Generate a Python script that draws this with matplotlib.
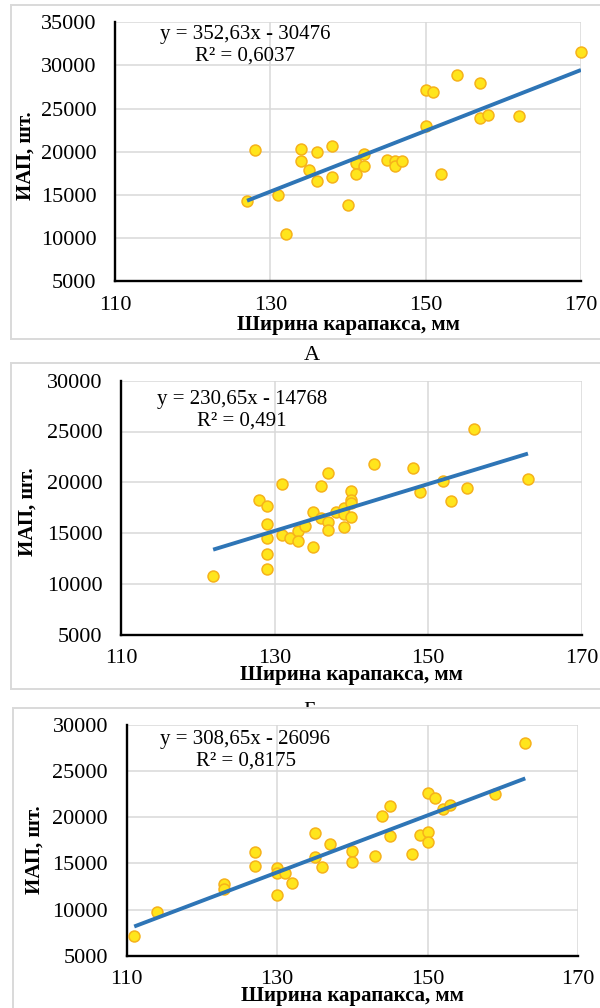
import matplotlib.pyplot as plt
from matplotlib.patches import Rectangle

plt.rcParams['font.family'] = ['Liberation Serif', 'DejaVu Serif']

W, H = 600, 1008

# panel 1 (caption А)
width1 = [127, 128, 131, 132, 134, 134, 135, 136, 136, 138, 138, 140, 141, 141, 142,
          142, 145, 146, 146, 147, 150, 151, 150, 152, 154, 157, 157, 158, 162, 170]
iap1 = [14300, 20200, 14950, 10500, 20250, 18930, 17850, 19940, 16610, 20640, 17075,
        13785, 18700, 17460, 19785, 18310, 19010, 18930, 18350, 18930, 27140, 26950,
        23000, 17385, 28840, 27990, 23890, 24240, 24160, 31590]

# panel 2 (caption Б)
width2 = [122, 128, 129, 129, 129, 129, 129, 131, 131, 132, 133, 133, 134, 135, 135,
          136, 136, 137, 137, 137, 138, 139, 139, 139, 140, 140, 140, 140, 143, 148,
          149, 152, 153, 155, 156, 163]
iap2 = [10770, 18255, 17700, 15860, 14480, 12900, 11430, 19830, 14810, 14480, 15200,
        14220, 15730, 17040, 13660, 19670, 16450, 20945, 16120, 15270, 17100, 17500,
        16880, 15560, 19170, 18255, 17930, 16610, 21765, 21370, 19010, 20125, 18120,
        19400, 25210, 20320]

# panel 3
width3 = [111, 114, 123, 123, 127, 127, 130, 130, 130, 131, 132, 135, 135, 136, 137,
          140, 140, 143, 144, 145, 145, 148, 149, 150, 150, 150, 151, 152, 153, 159, 163]
iap3 = [7130, 9700, 12770, 12190, 16240, 14750, 14470, 13920, 11575, 13920, 12880,
        18330, 15730, 14650, 17100, 16340, 15150, 15770, 20170, 21260, 17930, 16055,
        18040, 22670, 18440, 17355, 22090, 20930, 21290, 22490, 28050]

# linear trend (Excel)
slopes = [352.63, 230.65, 308.65]
intercepts = [-30476, -14768, -26096]
r2_labels = ['0,6037', '0,491', '0,8175']

y_tops = [35000, 30000, 30000]
x_ticks = [110, 130, 150, 170]

# layout in pixels
axes_px = [(115, 22.3, 581, 281), (121, 380.7, 581.7, 634.7), (126.7, 725, 577.9, 955.7)]
eq_px = [(245, 45), (242, 410.5), (245.5, 750.5)]
ylab_px = [(36, 156), (38, 512), (45, 850)]
xlab_dy = [44, 40, 40]
box_px = [(10.7, 5, 339.3), (10.7, 363.3, 689.3), (13.4, 708.3, 1030)]


def fx(x):
    return x / W


def fy(y):
    return 1 - y / H


fig = plt.figure(figsize=(6, 10.08), dpi=100)

for (bx, by0, by1) in box_px:
    fig.add_artist(Rectangle((fx(bx), fy(by1)), fx(620 - bx), (by1 - by0) / H,
                             transform=fig.transFigure, facecolor='white',
                             edgecolor='#D9D9D9', linewidth=1.4, zorder=-0.5))

fig.text(fx(311.5), fy(355.5), 'А', ha='center', va='center', fontsize=16, zorder=-1)
fig.text(fx(310), fy(711), 'Б', ha='center', va='center', fontsize=16, zorder=-1)

data = [(width1, iap1), (width2, iap2), (width3, iap3)]

for i, (xs, ys) in enumerate(data):
    l, t, r, b = axes_px[i]
    ax = fig.add_axes([fx(l), fy(b), (r - l) / W, (b - t) / H])
    ax.set_xlim(110, 170)
    ax.set_ylim(5000, y_tops[i])
    ax.set_xticks(x_ticks)
    ax.set_yticks(range(5000, y_tops[i] + 1, 5000))
    ax.grid(True, color='#D9D9D9', linewidth=1.1)
    ax.set_axisbelow(True)
    for s in ['top', 'right']:
        ax.spines[s].set_visible(False)
    for s in ['left', 'bottom']:
        ax.spines[s].set_linewidth(1.7)
        ax.spines[s].set_color('black')
    ax.tick_params(axis='both', length=0, labelsize=16)
    ax.tick_params(axis='x', pad=10.5)
    ax.tick_params(axis='y', pad=13.5)

    ax.scatter(xs, ys, s=62, color='#FFE51C', edgecolors='#F6B21A', linewidths=1.1,
               zorder=3, clip_on=False)
    x0, x1 = min(xs), max(xs)
    ax.plot([x0, x1], [slopes[i] * x0 + intercepts[i], slopes[i] * x1 + intercepts[i]],
            color='#2E75B6', linewidth=2.8, zorder=4, solid_capstyle='butt')

    eq = 'y = {:.2f}x - {}'.format(slopes[i], abs(intercepts[i])).replace('.', ',')
    fig.text(fx(eq_px[i][0]), fy(eq_px[i][1]), eq + '\nR² = ' + r2_labels[i],
             ha='center', va='center', multialignment='center', fontsize=15,
             linespacing=1.15)

    ax.set_xlabel('Ширина карапакса, мм', fontsize=15, fontweight='bold')
    ax.xaxis.label.set_va('center')
    ax.xaxis.set_label_coords(fx((l + r) / 2), fy(b + xlab_dy[i]), transform=fig.transFigure)
    ax.set_ylabel('ИАП, шт.', fontsize=15, fontweight='bold')
    ax.yaxis.set_label_coords(fx(ylab_px[i][0]), fy(ylab_px[i][1]), transform=fig.transFigure)

fig.savefig('out.png', dpi=100)
